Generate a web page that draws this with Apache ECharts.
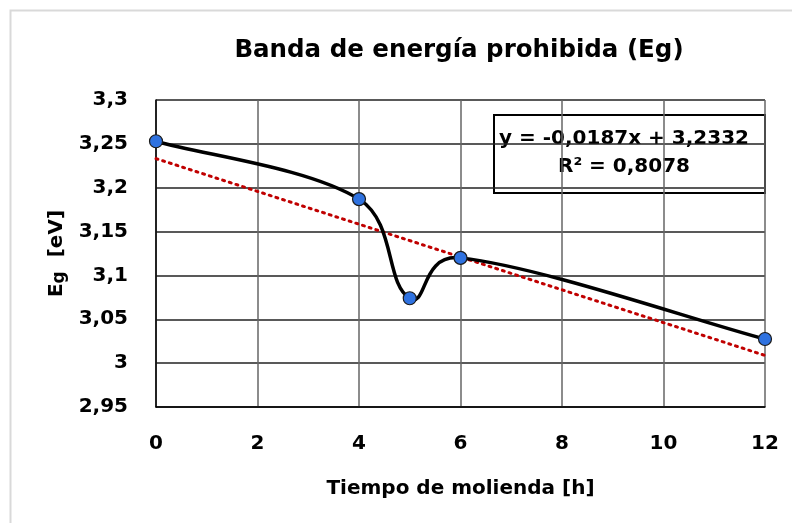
<!DOCTYPE html>
<html>
<head>
<meta charset="utf-8">
<script src="https://cdn.jsdelivr.net/npm/echarts@6/dist/echarts.min.js"></script>
<style>
  html, body { margin: 0; padding: 0; background: #ffffff; }
  #chart { width: 792px; height: 523px; }
</style>
</head>
<body>
<div id="chart"></div>
<script>
// datos
var tiempo = [0, 4, 5, 6, 12];
var energia = [3.253, 3.187, 3.074, 3.120, 3.0275];
// extremos de la línea de tendencia (y = -0,0187x + 3,2332)
var tendX = [0, 12];
var tendY = [3.2332, 3.0088];
var yTicks = [2.95, 3, 3.05, 3.1, 3.15, 3.2, 3.25, 3.3];

var fuente = '"DejaVu Sans", sans-serif';
var puntos = tiempo.map(function (x, i) { return [x, energia[i]]; });

var myChart = echarts.init(document.getElementById('chart'));

// curva suavizada parecida a la de Excel (tramos bezier)
function tramoSuave(params, api) {
    var i = params.dataIndex;
    var n = puntos.length;
    if (i >= n - 1) return null;
    var p = function (k) {
        k = Math.max(0, Math.min(n - 1, k));
        return api.coord(puntos[k]);
    };
    var dist = function (a, b) { return Math.hypot(b[0] - a[0], b[1] - a[1]); };
    var p1 = p(i), p2 = p(i + 1);
    var d = dist(p1, p2);
    // tangente en el punto k, con brazo mezclando 1/6 de la cuerda vecina y 1/3 del tramo
    var brazo = function (k) {
        var a = p(k - 1), b = p(k + 1);
        var l = dist(a, b) || 1;
        var m = (l / 6 + d / 3) / 2;
        return [(b[0] - a[0]) / l * m, (b[1] - a[1]) / l * m];
    };
    var t1 = brazo(i), t2 = brazo(i + 1);
    return {
        type: 'bezierCurve',
        shape: {
            x1: p1[0], y1: p1[1],
            cpx1: p1[0] + t1[0], cpy1: p1[1] + t1[1],
            cpx2: p2[0] - t2[0], cpy2: p2[1] - t2[1],
            x2: p2[0], y2: p2[1]
        },
        style: { stroke: '#000', lineWidth: 3.5, fill: 'none', lineCap: 'round' }
    };
}

var option = {
    backgroundColor: '#ffffff',
    animation: false,
    title: {
        text: 'Banda de energía prohibida (Eg)',
        left: 454,
        top: 33,
        textAlign: 'center',
        textStyle: { fontFamily: fuente, fontSize: 24.5, fontWeight: 'bold', color: '#000' }
    },
    grid: { left: 156, right: 27, top: 100, bottom: 116 },
    xAxis: {
        type: 'value',
        min: 0, max: 12, interval: 2,
        name: 'Tiempo de molienda [h]',
        nameLocation: 'middle',
        nameGap: 72,
        nameTextStyle: { fontFamily: fuente, fontSize: 20, fontWeight: 'bold', color: '#000' },
        axisLine: { lineStyle: { color: '#000', width: 1.5 } },
        axisTick: { show: false },
        axisLabel: { fontFamily: fuente, fontSize: 20, fontWeight: 'bold', color: '#000', margin: 27 },
        splitLine: { show: true, lineStyle: { color: '#666', width: 1.5 } }
    },
    yAxis: {
        type: 'value',
        min: 2.95, max: 3.3, interval: 0.05,
        name: '{e|E}{g|g}{e|  [eV]}',
        nameLocation: 'middle',
        nameGap: 88,
        nameRotate: 90,
        nameTextStyle: {
            rich: {
                e: { fontFamily: fuente, fontSize: 20, fontWeight: 'bold', color: '#000' },
                g: { fontFamily: fuente, fontSize: 17, fontWeight: 'bold', color: '#000', padding: [5, 0, 0, 0] }
            }
        },
        axisLine: { show: true, lineStyle: { color: '#000', width: 1.5 } },
        axisTick: { show: false },
        axisLabel: {
            fontFamily: fuente, fontSize: 20, fontWeight: 'bold', color: '#000', margin: 28,
            formatter: function (v) {
                var t = yTicks.find(function (k) { return Math.abs(k - v) < 1e-6; });
                return String(t !== undefined ? t : v).replace('.', ',');
            }
        },
        splitLine: { show: true, lineStyle: { color: '#222', width: 1.5 } }
    },
    series: [
        {
            name: 'tendencia',
            type: 'line',
            data: tendX.map(function (x, i) { return [x, tendY[i]]; }),
            symbol: 'none',
            lineStyle: { color: '#c00000', width: 3, type: [2, 5], cap: 'round' },
            z: 2
        },
        {
            name: 'curva',
            type: 'custom',
            data: puntos,
            renderItem: tramoSuave,
            z: 3
        },
        {
            name: 'Eg',
            type: 'line',
            data: puntos,
            symbol: 'circle',
            symbolSize: 13,
            lineStyle: { width: 0, opacity: 0 },
            itemStyle: { color: '#2f72e0', borderColor: '#1a1a1a', borderWidth: 1.2 },
            z: 4
        }
    ],
    graphic: [
        {
            type: 'rect',
            left: 8, top: 8,
            shape: { width: 900, height: 900 },
            style: { fill: 'none', stroke: '#d9d9d9', lineWidth: 2 },
            silent: true
        },
        {
            type: 'group',
            left: 493, top: 114,
            z: 100,
            children: [
                {
                    type: 'rect',
                    shape: { x: 0, y: 0, width: 271, height: 78 },
                    style: { fill: '#ffffff', stroke: '#000', lineWidth: 2 }
                },
                {
                    type: 'text',
                    x: 130, y: 24,
                    style: {
                        text: 'y = -0,0187x + 3,2332',
                        font: 'bold 20px ' + fuente,
                        fill: '#000', align: 'center', verticalAlign: 'middle'
                    }
                },
                {
                    type: 'text',
                    x: 130, y: 52,
                    style: {
                        text: 'R² = 0,8078',
                        font: 'bold 20px ' + fuente,
                        fill: '#000', align: 'center', verticalAlign: 'middle'
                    }
                }
            ]
        }
    ]
};
myChart.setOption(option);
</script>
</body>
</html>
